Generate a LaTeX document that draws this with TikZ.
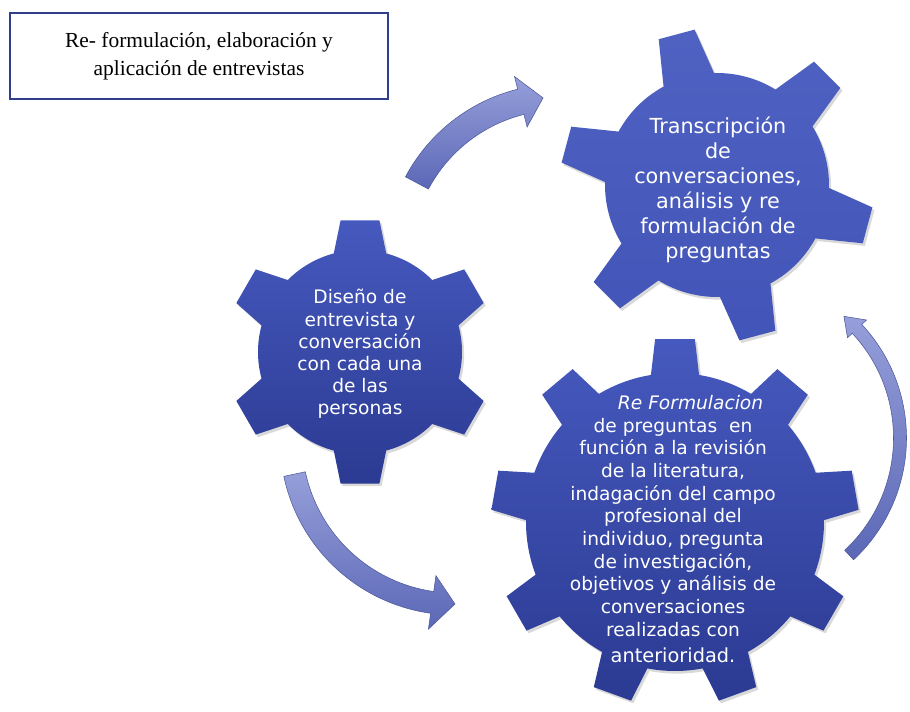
\documentclass[tikz,border=0pt]{standalone}
\usepackage{fontspec}
\setmainfont{Liberation Serif}
\newfontfamily\gearfont{DejaVu Sans}
\usepackage{tikz}
\usetikzlibrary{shadows}

\definecolor{gearlight}{HTML}{4659BE}
\definecolor{geardark}{HTML}{2B3A92}
\definecolor{arrowlight}{HTML}{969FDA}
\definecolor{arrowdark}{HTML}{5B68B6}
\definecolor{boxline}{HTML}{2F3F8C}

% options, center, teeth, first tooth angle, outer r, inner r, tip half angle, base half angle
\newcommand{\gearwheel}[8]{%
  \path[#1, shift={#2}] ({#4-#8}:#6)
    \foreach \k in {1,...,#3}{
      -- ({#4+(\k-1)*360/#3-#7}:#5) -- ({#4+(\k-1)*360/#3+#7}:#5)
      -- ({#4+(\k-1)*360/#3+#8}:#6)
      arc[start angle={#4+(\k-1)*360/#3+#8}, end angle={#4+\k*360/#3-#8}, radius=#6]
    } -- cycle;
}
% options, center, radius, half shaft, tail angle, head angle, tip angle, half head
\newcommand{\bentarrow}[8]{%
  \path[#1, shift={#2}] ({#5}:{#3+#4}) arc[start angle={#5}, end angle={#6}, radius={#3+#4}]
    -- ({#6}:{#3+#8}) -- ({#7}:{#3}) -- ({#6}:{#3-#8}) -- ({#6}:{#3-#4})
    arc[start angle={#6}, end angle={#5}, radius={#3-#4}] -- cycle;
}

\begin{document}
\begin{tikzpicture}[x=0.02cm, y=0.02cm,
    gearbody/.style={top color=gearlight, bottom color=geardark,
      drop shadow={opacity=0.3, shadow xshift=1.2pt, shadow yshift=-1.5pt}},
    arrowbody/.style={top color=arrowlight, bottom color=arrowdark,
      draw=arrowdark!85!black, line width=0.3pt},
    geartext/.style={text=white, align=center}]
    \useasboundingbox (0,0) rectangle (910,-712);

    % curved arrows
    \bentarrow{arrowbody}{(560,-259)}{162}{13}{152}{104}{96}{26}
    \bentarrow{arrowbody}{(455,-440)}{164}{11}{192}{262}{270}{27}
    \bentarrow{arrowbody}{(740,-438)}{160}{6.5}{-47}{43}{49.5}{13}

    % gears
    \gearwheel{gearbody}{(360,-352)}{6}{90}{133}{102}{8.4}{14.9}
    \gearwheel{gearbody, top color=gearlight!95!white, bottom color=gearlight!85!geardark}{(717,-185)}{6}{105}{157}{112}{6.8}{13.5}
    \gearwheel{gearbody}{(675,-522)}{9}{90}{184}{149}{6.2}{9.3}

    \node[geartext, font={\gearfont\fontsize{10.6}{12.6}\selectfont}] (diseno) at (360,-354)
      {Diseño de\\entrevista y\\conversación\\con cada una\\de las\\personas};
    \node[geartext, font={\gearfont\fontsize{11.8}{14.2}\selectfont}] (transcripcion) at (718,-190)
      {Transcripción\\de\\conversaciones,\\análisis y re\\formulación de\\preguntas};
    \node[geartext, font={\gearfont\fontsize{10.6}{12.9}\selectfont}] (reformulacion) at (673,-529)
      {\hspace*{20pt}\textit{Re Formulacion}\\de preguntas~ en\\función a la revisión\\de la literatura,\\indagación del campo\\profesional del\\individuo, pregunta\\de investigación,\\objetivos y análisis de\\conversaciones\\realizadas con\\[2pt]{\fontsize{11}{13}\selectfont anterioridad.}};

    \node[draw=boxline, line width=1.3pt, minimum width=7.56cm, minimum height=1.72cm,
      align=center, font={\fontsize{12.2}{16}\selectfont}] (titulo) at (199,-56)
      {Re- formulación, elaboración y\\aplicación de entrevistas};
\end{tikzpicture}
\end{document}
